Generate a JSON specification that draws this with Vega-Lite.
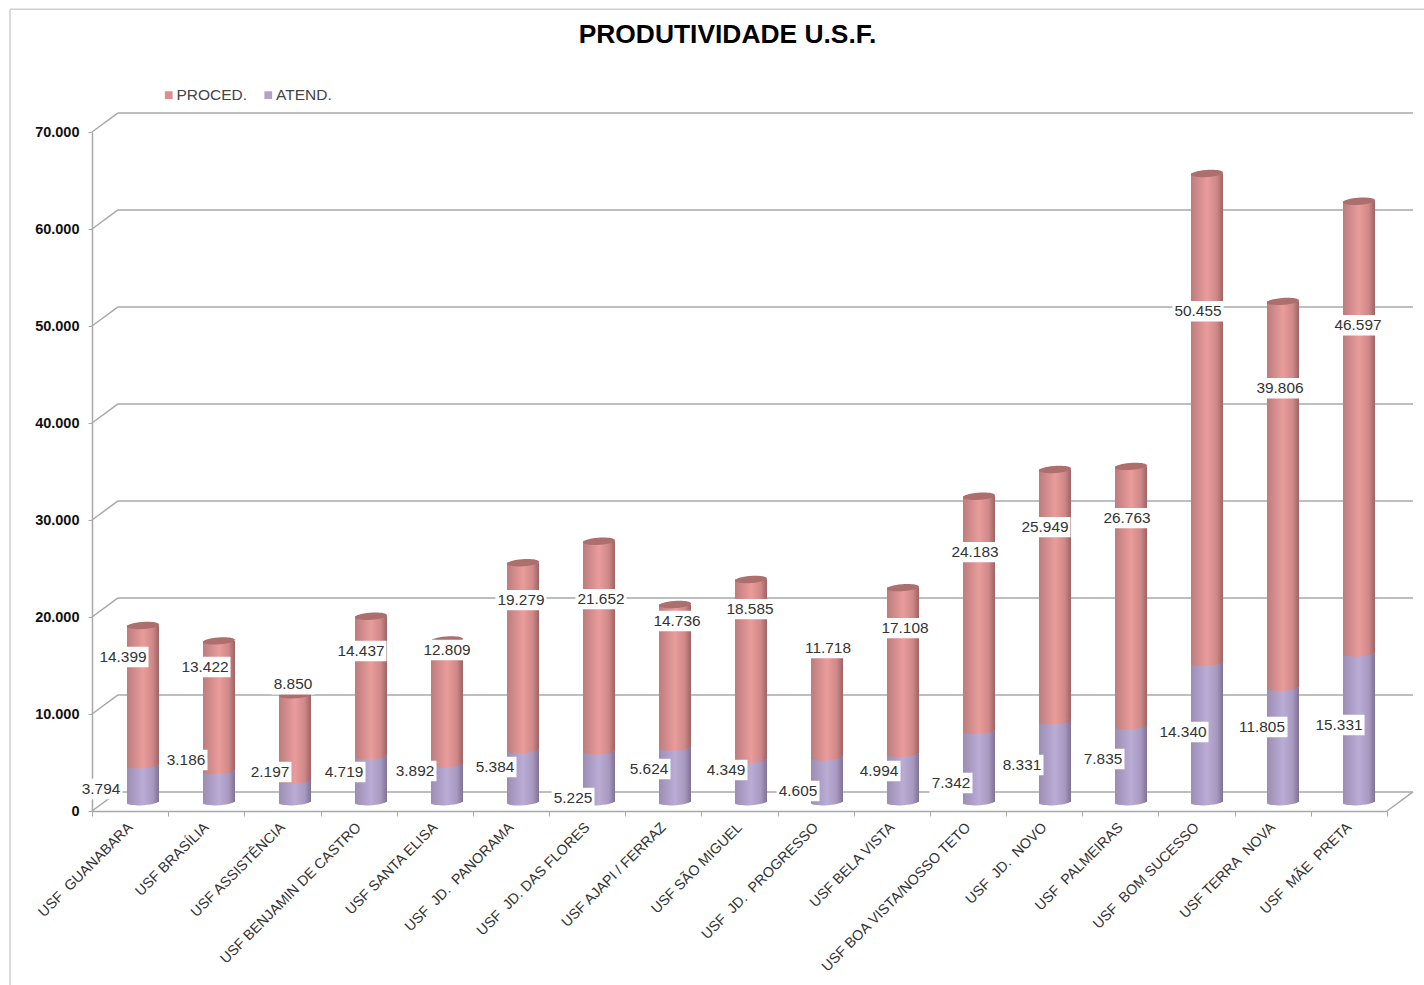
{
"$schema":"https://vega.github.io/schema/vega-lite/v6.json",
"width":1295,"height":679,
"autosize":{"type":"none"},
"padding":{"left":92,"top":132,"right":37,"bottom":174},
"background":"white",
"config":{"view":{"stroke":null},"font":"Liberation Sans","locale":{"number":{"decimal":",","thousands":".","grouping":[3],"currency":["R$",""]}}},
"title":{"text":"PRODUTIVIDADE U.S.F.","fontSize":26.4,"font":"Liberation Sans","fontWeight":"bold","color":"#000000","anchor":"middle","frame":"group","dx":-12,"offset":-40},
"datasets":{
"grid":[{"base":0,"back":1970},{"base":10000,"back":11970},{"base":20000,"back":21970},{"base":30000,"back":31970},{"base":40000,"back":41970},{"base":50000,"back":51970},{"base":60000,"back":61970},{"base":70000,"back":71970}],
"usf":[
{"cat":"USF  GUANABARA","series":"ATEND.","value":3794,"lx":9,"ly":2267},
{"cat":"USF BRASÍLIA","series":"ATEND.","value":3186,"lx":94,"ly":5256},
{"cat":"USF ASSISTÊNCIA","series":"ATEND.","value":2197,"lx":178,"ly":4019},
{"cat":"USF BENJAMIN DE CASTRO","series":"ATEND.","value":4719,"lx":252,"ly":4019},
{"cat":"USF SANTA ELISA","series":"ATEND.","value":3892,"lx":323,"ly":4122},
{"cat":"USF  JD.  PANORAMA","series":"ATEND.","value":5384,"lx":403,"ly":4534},
{"cat":"USF  JD. DAS FLORES","series":"ATEND.","value":5225,"lx":481,"ly":1340},
{"cat":"USF AJAPI / FERRAZ","series":"ATEND.","value":5624,"lx":557,"ly":4328},
{"cat":"USF SÃO MIGUEL","series":"ATEND.","value":4349,"lx":634,"ly":4225},
{"cat":"USF  JD.  PROGRESSO","series":"ATEND.","value":4605,"lx":706,"ly":2061},
{"cat":"USF BELA VISTA","series":"ATEND.","value":4994,"lx":787,"ly":4122},
{"cat":"USF BOA VISTA/NOSSO TETO","series":"ATEND.","value":7342,"lx":859,"ly":2885},
{"cat":"USF  JD.  NOVO","series":"ATEND.","value":8331,"lx":930,"ly":4740},
{"cat":"USF  PALMEIRAS","series":"ATEND.","value":7835,"lx":1011,"ly":5359},
{"cat":"USF  BOM SUCESSO","series":"ATEND.","value":14340,"lx":1091,"ly":8141},
{"cat":"USF TERRA  NOVA","series":"ATEND.","value":11805,"lx":1170,"ly":8656},
{"cat":"USF  MÃE  PRETA","series":"ATEND.","value":15331,"lx":1247,"ly":8862},
{"cat":"USF  GUANABARA","series":"PROCED.","value":14399,"lx":31,"ly":15870},
{"cat":"USF BRASÍLIA","series":"PROCED.","value":13422,"lx":113,"ly":14839},
{"cat":"USF ASSISTÊNCIA","series":"PROCED.","value":8850,"lx":201,"ly":13087},
{"cat":"USF BENJAMIN DE CASTRO","series":"PROCED.","value":14437,"lx":269,"ly":16488},
{"cat":"USF SANTA ELISA","series":"PROCED.","value":12809,"lx":355,"ly":16591},
{"cat":"USF  JD.  PANORAMA","series":"PROCED.","value":19279,"lx":429,"ly":21744},
{"cat":"USF  JD. DAS FLORES","series":"PROCED.","value":21652,"lx":509,"ly":21847},
{"cat":"USF AJAPI / FERRAZ","series":"PROCED.","value":14736,"lx":585,"ly":19580},
{"cat":"USF SÃO MIGUEL","series":"PROCED.","value":18585,"lx":658,"ly":20816},
{"cat":"USF  JD.  PROGRESSO","series":"PROCED.","value":11718,"lx":736,"ly":16797},
{"cat":"USF BELA VISTA","series":"PROCED.","value":17108,"lx":813,"ly":18858},
{"cat":"USF BOA VISTA/NOSSO TETO","series":"PROCED.","value":24183,"lx":883,"ly":26690},
{"cat":"USF  JD.  NOVO","series":"PROCED.","value":25949,"lx":953,"ly":29266},
{"cat":"USF  PALMEIRAS","series":"PROCED.","value":26763,"lx":1035,"ly":30194},
{"cat":"USF  BOM SUCESSO","series":"PROCED.","value":50455,"lx":1106,"ly":51525},
{"cat":"USF TERRA  NOVA","series":"PROCED.","value":39806,"lx":1188,"ly":43590},
{"cat":"USF  MÃE  PRETA","series":"PROCED.","value":46597,"lx":1266,"ly":50082}
]},
"data":{"name":"usf"},
"transform":[{"stack":"value","groupby":["cat"],"sort":[{"field":"series","order":"ascending"}],"as":["y0","y1"]}],
"resolve":{"scale":{"x":"independent"},"axis":{"x":"independent","y":"independent"}},
"layer":[
{"layer":[
 {"data":{"values":[{"frame":1}]},"mark":{"type":"rule","color":"#CFCFCF","strokeWidth":1.5},"encoding":{"x":{"datum":-82,"scale":{"domain":[0,1295],"nice":false,"zero":false},"axis":null},"y":{"datum":82646,"scale":{"domain":[0,70000],"nice":false},"axis":null},"y2":{"datum":-17930}}},
 {"data":{"values":[{"frame":1}]},"mark":{"type":"rule","color":"#CFCFCF","strokeWidth":1.5},"encoding":{"x":{"datum":-82,"scale":{"domain":[0,1295],"nice":false,"zero":false},"axis":null},"x2":{"datum":1332},"y":{"datum":82646,"axis":null}}},
 {"data":{"name":"grid"},"mark":{"type":"rule","color":"#A8A8A8","strokeWidth":1.5},"encoding":{"x":{"datum":0,"scale":{"domain":[0,1295],"nice":false,"zero":false},"axis":null},"x2":{"datum":26},"y":{"field":"base","type":"quantitative","scale":{"domain":[0,70000],"nice":false},"axis":null},"y2":{"field":"back"}}},
 {"data":{"name":"grid"},"mark":{"type":"rule","color":"#A8A8A8","strokeWidth":1.5},"encoding":{"x":{"datum":26,"scale":{"domain":[0,1295],"nice":false,"zero":false},"axis":null},"x2":{"datum":1321},"y":{"field":"back","type":"quantitative","axis":null}}},
 {"data":{"name":"grid"},"transform":[{"filter":"datum.base==0"}],"mark":{"type":"rule","color":"#A8A8A8","strokeWidth":1.5},"encoding":{"x":{"datum":1295,"scale":{"domain":[0,1295],"nice":false,"zero":false},"axis":null},"x2":{"datum":1321},"y":{"field":"base","type":"quantitative","axis":null},"y2":{"field":"back"}}}
]},
{"encoding":{"x":{"field":"cat","type":"nominal","axis":null,"scale":{"domain":["USF  GUANABARA","USF BRASÍLIA","USF ASSISTÊNCIA","USF BENJAMIN DE CASTRO","USF SANTA ELISA","USF  JD.  PANORAMA","USF  JD. DAS FLORES","USF AJAPI / FERRAZ","USF SÃO MIGUEL","USF  JD.  PROGRESSO","USF BELA VISTA","USF BOA VISTA/NOSSO TETO","USF  JD.  NOVO","USF  PALMEIRAS","USF  BOM SUCESSO","USF TERRA  NOVA","USF  MÃE  PRETA"],"range":[13,1305],"paddingInner":0,"paddingOuter":0}}},
"layer":[
 {"mark":{"type":"bar","width":32,"yOffset":-9,"y2Offset":-9},"encoding":{"y":{"field":"y1","type":"quantitative","axis":null},"y2":{"field":"y0"},"color":{"field":"series","type":"nominal","scale":{"domain":["PROCED.","ATEND."],"range":["#DE8E8E","#B3A2CB"]},"legend":{"title":null,"orient":"none","legendX":69,"legendY":-45,"direction":"horizontal","columns":2,"symbolType":"square","symbolSize":60,"labelFontSize":15.5,"labelColor":"#444444","labelFont":"Liberation Sans","columnPadding":12.5,"labelOffset":0}}}},
 {"transform":[{"filter":"datum.series=='ATEND.'"}],"mark":{"type":"bar","width":32,"yOffset":-9,"y2Offset":-10.5,"color":{"gradient":"linear","x1":0,"x2":1,"y1":0,"y2":0,"stops":[{"offset":0,"color":"#9C8DB4"},{"offset":0.5,"color":"#BBACD6"},{"offset":0.8,"color":"#A999C0"},{"offset":1,"color":"#7F7296"}]}},"encoding":{"y":{"field":"y1","type":"quantitative","axis":null},"y2":{"field":"y0"}}},
 {"transform":[{"filter":"datum.series=='ATEND.'"}],"mark":{"type":"point","filled":true,"opacity":1,"strokeWidth":0,"size":1024,"yOffset":-9,"shape":"M-1,0.08 A1,0.2 -4 0 0 1,-0.08 L1,-0.12 L-1,-0.12 Z","color":{"gradient":"linear","x1":0,"x2":1,"y1":0,"y2":0,"stops":[{"offset":0,"color":"#9C8DB4"},{"offset":0.5,"color":"#BBACD6"},{"offset":0.8,"color":"#A999C0"},{"offset":1,"color":"#7F7296"}]}},"encoding":{"y":{"field":"y0","type":"quantitative","axis":null}}},
 {"transform":[{"filter":"datum.series=='PROCED.'"}],"mark":{"type":"bar","width":32,"yOffset":-9,"y2Offset":-10.5,"color":{"gradient":"linear","x1":0,"x2":1,"y1":0,"y2":0,"stops":[{"offset":0,"color":"#BD7C7C"},{"offset":0.5,"color":"#EA9C9C"},{"offset":0.8,"color":"#D08888"},{"offset":1,"color":"#9C6464"}]}},"encoding":{"y":{"field":"y1","type":"quantitative","axis":null},"y2":{"field":"y0"}}},
 {"transform":[{"filter":"datum.series=='PROCED.'"}],"mark":{"type":"point","filled":true,"opacity":1,"strokeWidth":0,"size":1024,"yOffset":-9,"shape":"M-1,0.08 A1,0.2 -4 0 0 1,-0.08 L1,-0.12 L-1,-0.12 Z","color":{"gradient":"linear","x1":0,"x2":1,"y1":0,"y2":0,"stops":[{"offset":0,"color":"#BD7C7C"},{"offset":0.5,"color":"#EA9C9C"},{"offset":0.8,"color":"#D08888"},{"offset":1,"color":"#9C6464"}]}},"encoding":{"y":{"field":"y0","type":"quantitative","axis":null}}},
 {"transform":[{"filter":"datum.series=='PROCED.'"}],"mark":{"type":"point","filled":true,"opacity":1,"strokeWidth":0,"size":1024,"yOffset":-9,"color":"#AD6E6E","shape":"M-1,0.08 A1,0.22 -4 1 1 1,-0.08 A1,0.22 -4 1 1 -1,0.08 Z"},"encoding":{"y":{"field":"y1","type":"quantitative","axis":null}}}
]},
{"transform":[{"filter":"datum.series=='ATEND.'"}],"mark":{"type":"point","opacity":0},"encoding":{"x":{"field":"cat","type":"nominal","title":null,"scale":{"domain":["USF  GUANABARA","USF BRASÍLIA","USF ASSISTÊNCIA","USF BENJAMIN DE CASTRO","USF SANTA ELISA","USF  JD.  PANORAMA","USF  JD. DAS FLORES","USF AJAPI / FERRAZ","USF SÃO MIGUEL","USF  JD.  PROGRESSO","USF BELA VISTA","USF BOA VISTA/NOSSO TETO","USF  JD.  NOVO","USF  PALMEIRAS","USF  BOM SUCESSO","USF TERRA  NOVA","USF  MÃE  PRETA"],"paddingInner":0,"paddingOuter":0},"axis":{"labelExpr":"replace(replace(datum.label,'  ','\u00a0\u00a0'),'  ','\u00a0\u00a0')","labelAngle":-45,"labelAlign":"right","labelBaseline":"middle","labelFontSize":14.3,"labelColor":"#333333","labelFont":"Liberation Sans","labelPadding":9,"labelOverlap":false,"labelBound":false,"labelFlush":false,"labelLimit":400,"tickBand":"extent","tickSize":5,"tickColor":"#A8A8A8","tickWidth":1,"domainColor":"#A8A8A8","domainWidth":1.5,"grid":false}},"y":{"datum":0,"type":"quantitative","axis":{"title":null,"orient":"left","grid":false,"values":[0,10000,20000,30000,40000,50000,60000,70000],"labelExpr":"format(datum.value,',')","domainColor":"#A8A8A8","domainWidth":1.5,"tickColor":"#A8A8A8","tickSize":4,"tickWidth":1,"labelPadding":9,"labelFontSize":14.5,"labelFontWeight":"bold","labelColor":"#111111","labelFont":"Liberation Sans"}}}},
{"layer":[
 {"transform":[{"filter":"datum.value>=10000"}],"mark":{"type":"point","filled":true,"opacity":1,"strokeWidth":0,"color":"white","size":2601,"shape":"M-1,-0.4 H1 V0.4 H-1 Z"},"encoding":{"x":{"field":"lx","type":"quantitative","axis":null,"scale":{"domain":[0,1295],"nice":false,"zero":false}},"y":{"field":"ly","type":"quantitative","axis":null}}},
 {"transform":[{"filter":"datum.value<10000"}],"mark":{"type":"point","filled":true,"opacity":1,"strokeWidth":0,"color":"white","size":1849,"shape":"M-1,-0.48 H1 V0.48 H-1 Z"},"encoding":{"x":{"field":"lx","type":"quantitative","axis":null,"scale":{"domain":[0,1295],"nice":false,"zero":false}},"y":{"field":"ly","type":"quantitative","axis":null}}},
 {"mark":{"type":"text","fontSize":15.4,"font":"Liberation Sans","color":"#333333","align":"center","baseline":"middle"},"encoding":{"x":{"field":"lx","type":"quantitative","axis":null,"scale":{"domain":[0,1295],"nice":false,"zero":false}},"y":{"field":"ly","type":"quantitative","axis":null},"text":{"field":"value","type":"quantitative","format":","}}}
]}
]
}
